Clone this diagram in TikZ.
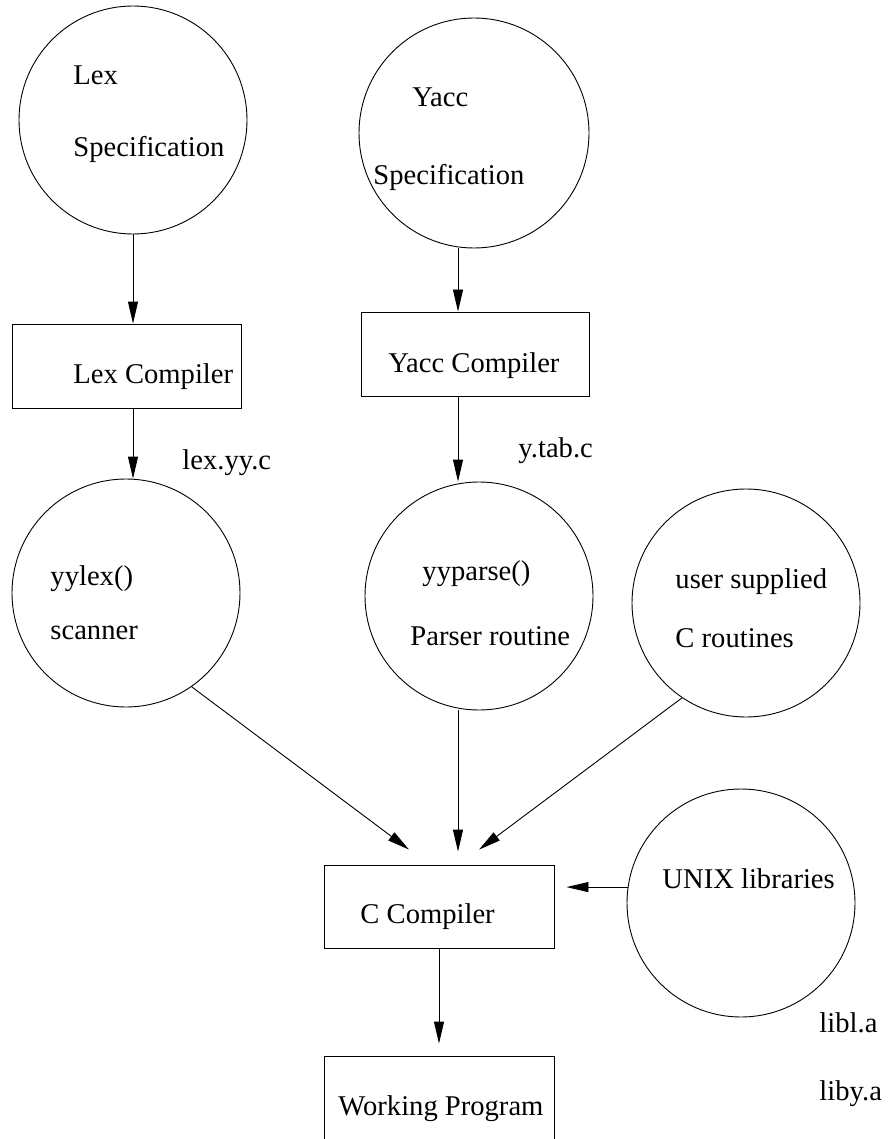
\documentclass[tikz,border=0pt]{standalone}
\usepackage{fontspec}
\setmainfont{Liberation Serif}
\usetikzlibrary{arrows.meta}

\tikzset{
  blob/.style={draw, circle, minimum size=228pt, inner sep=0pt},
  box/.style={draw, rectangle, minimum width=230pt, minimum height=84pt, inner sep=0pt},
  lbl/.style={anchor=base west, inner sep=0pt, font=\fontsize{28.6}{34}\selectfont},
  flow/.style={-{Triangle[length=22pt,width=10pt]}},
}

\begin{document}
\begin{tikzpicture}[x=1pt,y=-1pt,line width=0.9pt]
  \useasboundingbox (0,0) rectangle (887,1139);
  \node[blob] (lexspec) at (133,120) {};
  \node[blob, minimum size=230pt] (yaccspec) at (474,133) {};
  \node[box, minimum width=229pt] (lexcomp) at (126.5,366) {};
  \node[box, minimum width=228pt] (yacccomp) at (475,354) {};
  \node[blob] (yylex) at (126,593) {};
  \node[blob] (yyparse) at (479,596) {};
  \node[blob] (usercode) at (746,603) {};
  \node[blob] (unixlib) at (741,903) {};
  \node[box, minimum height=83pt] (ccomp) at (439,906.5) {};
  \node[box, minimum height=90pt] (prog) at (439,1101) {};

  \node[lbl] (lexspecA) at (73,85) {Lex};
  \node[lbl] (lexspecB) at (73,157) {Specification};
  \node[lbl] (yaccspecA) at (412,107) {Yacc};
  \node[lbl] (yaccspecB) at (373,185) {Specification};
  \node[lbl] (lexcompT) at (73,383) {Lex Compiler};
  \node[lbl] (yacccompT) at (388,372) {Yacc Compiler};
  \node[lbl] (lexout) at (182,469) {lex.yy.c};
  \node[lbl] (yaccout) at (518,457) {y.tab.c};
  \node[lbl] (yylexA) at (50,585) {yylex()};
  \node[lbl] (yylexB) at (50,639) {scanner};
  \node[lbl] (yyparseA) at (422,580) {yyparse()};
  \node[lbl] (yyparseB) at (410,645) {Parser routine};
  \node[lbl] (usercodeA) at (675,588) {user supplied};
  \node[lbl] (usercodeB) at (675,647) {C routines};
  \node[lbl] (unixlibT) at (662,888) {UNIX libraries};
  \node[lbl] (ccompT) at (360,923) {C Compiler};
  \node[lbl] (progT) at (338,1115) {Working Program};
  \node[lbl] (libl) at (819,1032) {libl.a};
  \node[lbl] (liby) at (819,1100) {liby.a};

  \coordinate (lexaxis) at (133,0);
  \coordinate (yaccaxis) at (458,0);
  \draw[flow] (lexspec.south) -- (lexaxis |- lexcomp.north);
  \draw[flow] (lexaxis |- lexcomp.south) -- (lexaxis |- yylex.north);
  \draw[flow] (yaccaxis |- yaccspec.south) -- (yaccaxis |- yacccomp.north);
  \draw[flow] (yaccaxis |- yacccomp.south) -- (yaccaxis |- yyparse.north);
  \draw[flow, shorten >=25pt] (yylex.305) -- ([xshift=-10pt]ccomp.north);
  \draw[flow, shorten >=13pt] (yaccaxis |- yyparse.south) -- (yaccaxis |- ccomp.north);
  \draw[flow, shorten >=25pt] (usercode.236) -- ([xshift=20pt]ccomp.north);
  \draw[flow, shorten >=12pt] (unixlib.172) -- (unixlib.172 -| ccomp.east);
  \draw[flow, shorten >=12pt] (ccomp) -- (prog);
\end{tikzpicture}
\end{document}
